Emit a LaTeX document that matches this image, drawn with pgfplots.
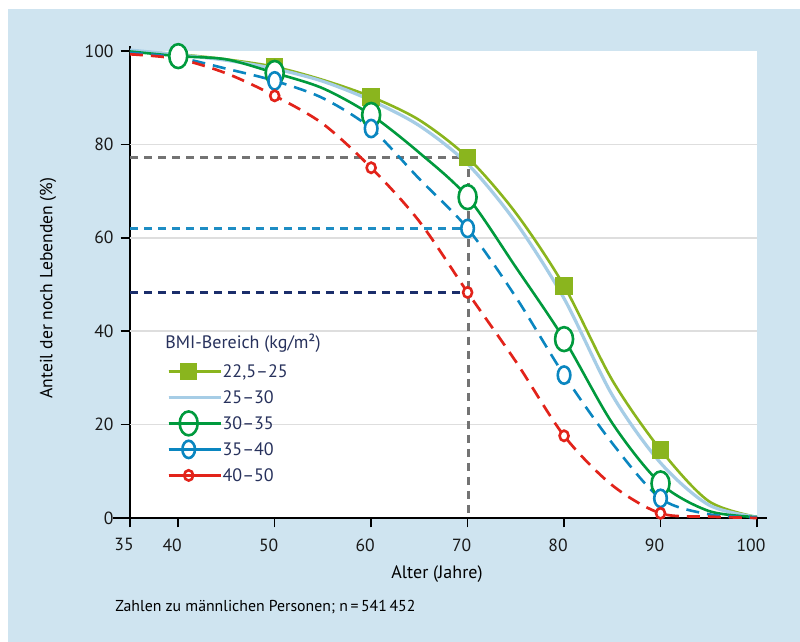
\documentclass[border=0pt]{standalone}
\usepackage{pgfplots}
\pgfplotsset{compat=1.18}
\usepackage{fontspec}
\setmainfont{PT Sans}
\definecolor{bgblue}{RGB}{207,228,240}
\definecolor{cLime}{RGB}{138,181,30}
\definecolor{cLight}{RGB}{166,205,230}
\definecolor{cGreen}{RGB}{0,154,61}
\definecolor{cBlue}{RGB}{10,134,192}
\definecolor{cRed}{RGB}{226,35,26}
\definecolor{cGray}{RGB}{115,115,115}
\definecolor{cNavy}{RGB}{27,46,107}
\definecolor{cRefBlue}{RGB}{30,141,196}
\definecolor{cText}{RGB}{39,49,92}
\definecolor{cGrid}{RGB}{222,222,222}
\pgfplotsset{myleg/.style={legend image code/.code={%
    \draw[##1, solid] (0pt,0pt) -- (20pt,0pt);%
    \draw[##1, solid] plot coordinates {(10pt,0pt)};%
    \path (0pt,0pt) -- (26.2pt,0pt);}}}
\begin{document}
\begin{tikzpicture}[x=1pt,y=1pt]
\path[use as bounding box] (0,0) rectangle (400,321);
\fill[bgblue] (4,0) rectangle (400,316.5);
\begin{axis}[
  at={(65pt,62pt)}, anchor=south west,
  scale only axis, width=313.5pt, height=233.5pt,
  xmin=35, xmax=100, ymin=0, ymax=100,
  clip=false,
  axis lines*=left,
  axis line style={line width=0.75pt, black},
  x axis line style={shorten <=-8.5pt, shorten >=-5pt},
  y axis line style={shorten >=-2.5pt},
  axis background/.style={fill=white},
  xtick={35,40,50,60,70,80,90,100},
  ytick={0,20,40,60,80,100},
  tick align=outside,
  major tick length=4.75pt,
  tick style={line width=0.75pt, black},
  tick label style={font=\fontsize{8.8}{10}\selectfont, text=black!90},
  xticklabel style={xshift=-3pt, yshift=-2pt},
  /pgf/number format/assume math mode=true,
  legend style={at={(0.0585,0.3426)}, anchor=north west, draw=none, fill=none,
    inner sep=0pt, row sep=0pt,
    font=\fontsize{9}{10}\selectfont,
    nodes={inner sep=0pt, text height=9.6pt, text depth=3.4pt, text=cText}},
  legend cell align=left,
  legend image post style={solid},
]
% grid lines
\addplot[cGrid, line width=0.75pt, forget plot] coordinates {(35,20) (100,20)};
\addplot[cGrid, line width=0.75pt, forget plot] coordinates {(35,40) (100,40)};
\addplot[cGrid, line width=0.75pt, forget plot] coordinates {(35,60) (100,60)};
\addplot[cGrid, line width=0.75pt, forget plot] coordinates {(35,80) (100,80)};
% reference lines
\addplot[cGray, line width=1.3pt, dash pattern=on 4pt off 3pt, forget plot] coordinates {(35,77.2) (70.1,77.2) (70.1,0)};
\addplot[cRefBlue, line width=1.3pt, dash pattern=on 4pt off 3pt, forget plot] coordinates {(35,62) (70.1,62)};
\addplot[cNavy, line width=1.3pt, dash pattern=on 4pt off 3pt, forget plot] coordinates {(35,48.3) (70.1,48.3)};
% 22,5-25
\addplot[cLime, line width=1.3pt, smooth, mark=square*, mark indices={4,6,8,10,12}, mark size=4.15pt,
  mark options={solid, fill=cLime, draw=cLime, line width=0pt}, forget plot] coordinates {
(35,100) (40,99.3) (45,98.2) (50,96.6) (55,93.8) (60,90.2) (65,85.2) (70,77.2)
(75,65.3) (80,49.7) (85,29.5) (90,14.6) (95,3.6) (100,0.2)};
% 25-30
\addplot[cLight, line width=1.6pt, smooth, forget plot] coordinates {
(35,100.2) (40,99.2) (45,98.0) (50,96.2) (55,93.5) (60,89.4) (65,84.0) (70,75.8)
(75,63.3) (80,47.0) (85,26.3) (90,11.8) (95,2.8) (100,0.2)};
% 30-35
\addplot[cGreen, line width=1.3pt, smooth, mark=*, mark indices={2,4,6,8,10,12}, mark size=4.5pt,
  mark options={solid, fill=white, draw=cGreen, line width=1.3pt, yscale=1.33}, forget plot] coordinates {
(35,99.9) (40,98.9) (45,98.2) (50,95.3) (55,92.0) (60,86.3) (65,78.2) (70,68.7)
(75,53.7) (80,38.3) (85,20.3) (90,7.4) (95,1.5) (100,0.2)};
% 35-40
\addplot[cBlue, line width=1.3pt, smooth, dash pattern=on 6.5pt off 4pt, mark=*, mark indices={4,6,8,10,12}, mark size=3.15pt,
  mark options={solid, fill=white, draw=cBlue, line width=1.3pt, yscale=1.37}, forget plot] coordinates {
(35,99.6) (40,98.6) (45,96.2) (50,93.6) (55,89.9) (60,83.4) (65,72.6) (70,62.0)
(75,47.3) (80,30.6) (85,16.0) (90,4.2) (95,0.8) (100,0.1)};
% 40-50
\addplot[cRed, line width=1.35pt, smooth, dash pattern=on 6.5pt off 4pt, mark=*, mark indices={4,6,8,10,12}, mark size=2.25pt,
  mark options={solid, fill=white, draw=cRed, line width=1.3pt, yscale=1.15}, forget plot] coordinates {
(35,99.3) (40,98.3) (45,95.2) (50,90.4) (55,84.4) (60,75.0) (65,63.5) (70,48.3)
(75,33.5) (80,17.6) (85,7.0) (90,1.0) (95,0.3) (100,0.0)};
% legend
\addlegendimage{cLime, line width=1.3pt, mark=square*, mark size=4.15pt, mark options={solid, fill=cLime, draw=cLime, line width=0pt}, myleg}
\addlegendentry{22,5–25}
\addlegendimage{cLight, line width=1.6pt, mark=none, myleg}
\addlegendentry{25–30}
\addlegendimage{cGreen, line width=1.3pt, mark=*, mark size=4.5pt, mark options={solid, fill=white, draw=cGreen, line width=1.3pt, yscale=1.33}, myleg}
\addlegendentry{30–35}
\addlegendimage{cBlue, line width=1.3pt, mark=*, mark size=3.15pt, mark options={solid, fill=white, draw=cBlue, line width=1.3pt, yscale=1.37}, myleg}
\addlegendentry{35–40}
\addlegendimage{cRed, line width=1.35pt, mark=*, mark size=2.25pt, mark options={solid, fill=white, draw=cRed, line width=1.3pt, yscale=1.15}, myleg}
\addlegendentry{40–50}
\node[anchor=base west, inner sep=0pt, font=\fontsize{9}{10}\selectfont, text=cText] at (axis cs:38.63,36.3) {BMI-Bereich (kg/m²)};
\end{axis}
\node[rotate=90, font=\fontsize{8.8}{10}\selectfont] at (24,177) {Anteil der noch Lebenden (\%)};
\node[anchor=base, font=\fontsize{9}{10}\selectfont, inner sep=0pt] at (218.5,31.5) {Alter (Jahre)};
\node[anchor=base west, font=\fontsize{7.9}{9}\selectfont, inner sep=0pt] at (57.5,15.25) {Zahlen zu männlichen Personen; n\,=\,541\,452};
\end{tikzpicture}
\end{document}
